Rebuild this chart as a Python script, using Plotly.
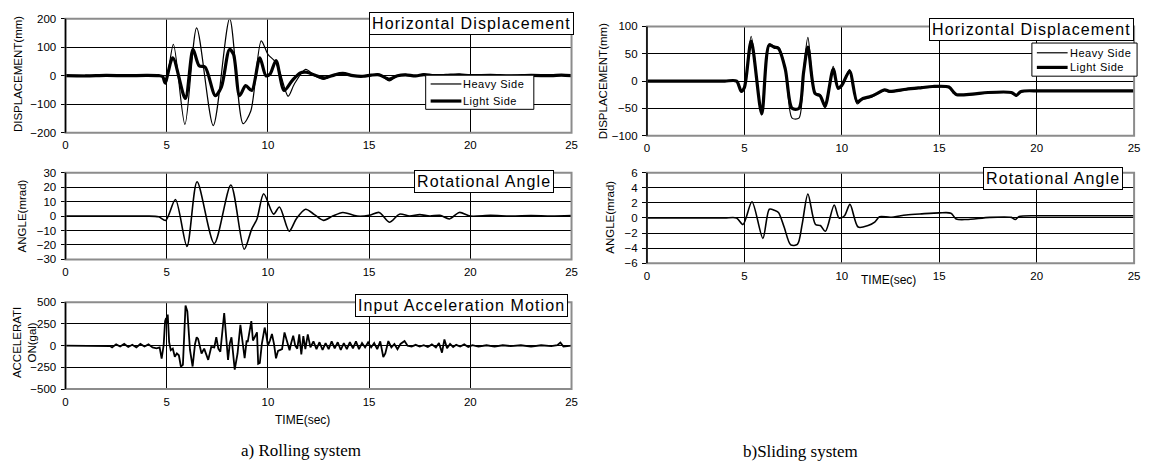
import plotly.graph_objects as go

W, H = 1152, 474

# ---------------- data ----------------
# a) Rolling system - horizontal displacement (mm)
roll_heavy_t = [0, 1, 2, 3, 4, 4.6, 4.8, 4.95, 5.33, 5.9, 6.48, 7.3, 8.11, 8.77, 9.15, 9.67, 10.0, 10.35,
                10.6, 11.0, 11.3, 11.86, 12.3, 12.75, 13.2, 13.7, 14.2, 14.7, 15.1, 15.5, 16.0, 16.4, 16.8,
                17.3, 17.7, 18.2, 18.8, 19.46, 20, 20.8, 21.6, 22.4, 23.2, 24.0, 24.5, 25]
roll_heavy_disp = [0, 1, -2, 1, 0, 2, -5, -30, 110, -171, 168, -175, 200, -168, -125, 122, 75, 50,
                   10, -72, -30, 22, 0, -13, 2, 11, 0, -3, 2, 5, -18, 0, 5,
                   -2, 6, 0, 2, 5, -1, 2, -1, 2, 0, -1, 3, 0]
roll_light_t = [0, 1, 2, 3, 4, 4.6, 4.8, 4.92, 5.3, 5.92, 6.3, 6.6, 6.9, 7.4, 7.7, 8.1, 8.3, 8.6, 8.9, 9.2,
                9.6, 9.9, 10.1, 10.4, 10.8, 11.2, 11.6, 11.9, 12.4, 12.8, 13.3, 13.7, 14.2, 14.7, 15.1, 15.5,
                16.0, 16.4, 16.8, 17.3, 17.7, 18.2, 18.8, 19.46, 20, 21, 22, 23, 24, 24.5, 25]
roll_light_disp = [0, -1, 1, 0, 1, 0, -3, -25, 63, -80, 92, 35, 30, -70, -40, 92, 75, -70, -35, -52,
                   63, 0, 5, 53, -52, -17, 10, 12, 0, -8, 3, 8, 0, -2, 2, 3,
                   -12, 0, 3, -1, 4, 0, 1, 3, 0, 1, -1, 1, 0, 2, 0]

# a) Rolling system - rotational angle (mrad)
roll_ang_t = [0, 1, 2, 3, 4, 4.6, 4.95, 5.43, 6.0, 6.5, 7.35, 8.17, 8.83, 9.2, 9.46, 9.79, 10.28, 10.57,
              11.05, 11.4, 11.86, 12.3, 12.75, 13.2, 13.7, 14.4, 15.0, 15.5, 16.0, 16.5, 17.0, 17.5, 18.0,
              18.5, 18.97, 19.46, 20, 21, 22, 23, 24, 25]
roll_angle = [0, 0, 0, 0, 0, -0.5, -3, 11.4, -21, 23.7, -19, 21.5, -23, -9, -2, 15.4, 1.3, 6.3,
              -10.5, -2, 4.7, 1, -3, 0, 2.5, 0, 0.5, 2.5, -4.3, 1.3, 0, 1, 0,
              0.5, -2, 2.5, 0, 0.5, 0, 0.3, 0, 0.3]

# a) Input acceleration motion (gal)
acc_t = [0, 1.0, 2.0, 2.2, 2.3, 2.5, 2.7, 2.9, 3.1, 3.3, 3.5, 3.7, 3.9, 4.1, 4.3, 4.5, 4.65, 4.75, 4.85,
         4.92, 4.97, 5.0, 5.05, 5.12, 5.2, 5.3, 5.4, 5.5, 5.6, 5.7, 5.8, 5.93, 6.02, 6.15, 6.28, 6.4,
         6.48, 6.55, 6.72, 6.85, 7.05, 7.2, 7.35, 7.45, 7.55, 7.65, 7.84, 7.95, 8.03, 8.12, 8.2, 8.36,
         8.5, 8.64, 8.75, 8.85, 8.95, 9.0, 9.18, 9.26, 9.35, 9.46, 9.52, 9.6, 9.7, 9.84, 9.92, 10.0,
         10.1, 10.2, 10.3, 10.4, 10.5, 10.6, 10.7, 10.82, 10.95, 11.07, 11.15, 11.25, 11.35, 11.45,
         11.55, 11.65, 11.75, 11.85, 11.97, 12.1, 12.25, 12.4, 12.55, 12.7, 12.85, 13.0, 13.15, 13.3,
         13.45, 13.6, 13.75, 13.9, 14.05, 14.2, 14.35, 14.5, 14.65, 14.8, 14.95, 15.1, 15.25, 15.4,
         15.55, 15.7, 15.8, 15.95, 16.1, 16.25, 16.4, 16.55, 16.75, 16.9, 17.1, 17.3, 17.5, 17.7, 17.9,
         18.1, 18.3, 18.45, 18.6, 18.72, 18.85, 19.0, 19.15, 19.3, 19.5, 19.7, 19.9, 20.1, 20.4, 20.8,
         21.2, 21.6, 22.0, 22.5, 23.0, 23.5, 24.0, 24.3, 24.45, 24.6, 25]
acc_gal = [0, 0, 0, -5, -20, 15, -10, 20, -15, 10, -20, 20, -10, 15, -20, -30, -20, -150, 10,
           283, 320, 250, 358, 40, -52, -34, -127, -90, -110, -240, -220, 463, 395, -50, -240, 20,
           97, 78, -90, -34, -164, -15, -20, 97, -34, -70, 377, 80, -164, 30, 97, -276,
           -90, 239, 0, -145, 60, 41, 283, 60, 100, 153, -209, -200, 20, 209, 120, 0,
           60, 134, 20, -145, -60, -52, -40, 153, 50, -52, 30, 116, 0, -34,
           130, -100, 110, -40, 130, -20, 50, -40, 40, -50, 30, -40, 50, -30,
           40, -50, 30, -40, 40, -30, 50, -40, 30, -20, 40, -20, 30, -40,
           50, -130, -90, 53, -20, 20, -40, 20, 53, 0, -10, 10, -10, 5, -15,
           15, -20, 30, -80, 72, -30, 20, -15, 10, -10, 15, -15, 5, -10, 5,
           -10, 5, -5, 5, -10, 5, -5, 5, 35, -10, 0]

# b) Sliding system - horizontal displacement (mm)
slide_t = [0, 1, 2, 3, 4, 4.6, 4.84, 5.0, 5.35, 5.89, 6.27, 6.53, 6.75, 7.1, 7.45, 7.8, 8.04, 8.26, 8.63,
           8.89, 9.14, 9.56, 9.81, 10.0, 10.4, 10.79, 11.08, 11.5, 11.8, 12.2, 12.45, 13.3, 14.1, 14.65,
           15.5, 15.75, 15.9, 16.7, 17.5, 18.7, 18.96, 19.2, 20.1, 21, 22, 23, 24, 25]
slide_heavy_disp = [0, 0, 0, 0, 0, 0, -19, -12, 82, -62, 68, 64, 62, 24, -68, -68, 18, 80, -21,
                    -25, -50, 27, -15, -9, 21, -42, -33, -30, -24, -17, -20, -16, -13, -11,
                    -12, -22, -26, -25, -22, -22, -28, -20, -19, -19, -19, -19, -19, -19]
slide_light_disp = [0, 0, 0, 0, 0, 0, -19, -12, 73, -60, 66, 62, 60, 22, -50, -50, 16, 62, -23,
                    -27, -46, 22, -13, -8, 18, -38, -32, -28, -23, -16, -19, -15, -12, -10,
                    -11, -21, -25, -24, -21, -21, -26, -19, -18, -18, -18, -18, -18, -18]

# b) Sliding system - rotational angle (mrad)
slide_ang_t = [0, 1, 2, 3, 4, 4.6, 4.93, 5.39, 5.95, 6.28, 6.54, 6.75, 7.04, 7.38, 7.72, 7.97, 8.26, 8.65,
               8.9, 9.16, 9.61, 9.86, 10.14, 10.42, 10.84, 11.35, 11.69, 11.94, 12.5, 13.3, 14.1, 15.0,
               15.6, 15.87, 16.4, 17.6, 18.7, 18.9, 19.1, 20.1, 21, 22, 23, 24, 25]
slide_angle = [0, 0, 0, 0, 0, 0, -0.86, 2.15, -2.7, 1.16, 1.03, 0.73, -1.2, -3.56, -3.5, -0.77, 3.18, -0.86,
               -1.0, -1.76, 1.72, 0, 0.3, 1.8, -1.2, -1.0, -0.55, 0.17, 0.1, 0.4, 0.55, 0.68,
               0.64, -0.13, -0.2, 0.08, 0.08, -0.2, 0.2, 0.3, 0.3, 0.3, 0.3, 0.3, 0.3]

x_ticks = [0, 5, 10, 15, 20, 25]
legend_names = ["Heavy Side", "Light Side"]
panel_titles = ["Horizontal Displacement", "Rotational Angle", "Input Acceleration Motion",
                "Horizontal Displacement", "Rotational Angle"]
y_titles = ["DISPLACEMENT(mm)", "ANGLE(mrad)", "ACCELERATI<br>ON(gal)", "DISPLACEMENT(mm)", "ANGLE(mrad)"]
captions = ["a) Rolling system", "b)Sliding system"]

# ---------------- layout geometry (pixels) ----------------
def px_x(p):
    return p / W

def px_y(p):
    return 1 - p / H

LX = (63, 573)
RX = (649, 1140)
panels = [  # (xdom px, ydom px top,bottom, yrange, dtick)
    (LX, (13, 130), [-200, 200], 100),
    (LX, (171, 260), [-30, 30], 10),
    (LX, (304, 393), [-500, 500], 250),
    (RX, (21, 133), [-100, 100], 50),
    (RX, (171, 264), [-6, 6], 2),
]

FONT = "Liberation Sans, Arial, sans-serif"
fig = go.Figure()

thin = dict(color="black", width=1.2, shape="spline", smoothing=0.8)
thick = dict(color="black", width=3.2, shape="spline", smoothing=0.8)

fig.add_trace(go.Scatter(x=roll_heavy_t, y=roll_heavy_disp, mode="lines", line=thin,
                         name=legend_names[0], xaxis="x", yaxis="y", showlegend=False))
fig.add_trace(go.Scatter(x=roll_light_t, y=roll_light_disp, mode="lines", line=thick,
                         name=legend_names[1], xaxis="x", yaxis="y", showlegend=False))
fig.add_trace(go.Scatter(x=roll_ang_t, y=roll_angle, mode="lines",
                         line=dict(color="black", width=1.6, shape="spline", smoothing=0.8),
                         showlegend=False, xaxis="x2", yaxis="y2"))
fig.add_trace(go.Scatter(x=acc_t, y=acc_gal, mode="lines",
                         line=dict(color="black", width=1.8),
                         showlegend=False, xaxis="x3", yaxis="y3"))
fig.add_trace(go.Scatter(x=slide_t, y=slide_heavy_disp, mode="lines", line=thin,
                         name=legend_names[0], xaxis="x4", yaxis="y4", showlegend=False))
fig.add_trace(go.Scatter(x=slide_t, y=slide_light_disp, mode="lines", line=thick,
                         name=legend_names[1], xaxis="x4", yaxis="y4", showlegend=False))
fig.add_trace(go.Scatter(x=slide_ang_t, y=slide_angle, mode="lines",
                         line=dict(color="black", width=1.6, shape="spline", smoothing=0.8),
                         showlegend=False, xaxis="x5", yaxis="y5"))

layout = dict(
    width=W, height=H, margin=dict(l=0, r=0, t=0, b=0),
    paper_bgcolor="white", plot_bgcolor="white",
    font=dict(family=FONT, size=11, color="black"),
    shapes=[], annotations=[], showlegend=False,
)

for i, (xd, yd, yr, dt) in enumerate(panels):
    n = "" if i == 0 else str(i + 1)
    layout["xaxis" + n] = dict(
        domain=[px_x(xd[0]), px_x(xd[1])], anchor="y" + n, range=[0, 25],
        tickvals=x_ticks, showgrid=True, gridcolor="black", gridwidth=1,
        zeroline=False, showline=False, ticks="", ticklabelstandoff=4,
        tickfont=dict(size=11.5, family=FONT),
    )
    layout["yaxis" + n] = dict(
        domain=[px_y(yd[1]), px_y(yd[0])], anchor="x" + n, range=yr, dtick=dt,
        showgrid=True, gridcolor="black", gridwidth=1, zeroline=False, showline=False,
        ticks="outside", ticklen=4, tickcolor="black", ticklabelstandoff=2,
        tickfont=dict(size=11.5, family=FONT),
    )
    xr = "x" + n + " domain" if n else "x domain"
    yrf = "y" + n + " domain" if n else "y domain"
    layout["shapes"].append(dict(type="rect", xref=xr, yref=yrf, x0=0, x1=1, y0=0, y1=1,
                                 line=dict(color="#8c8c8c", width=2), layer="above"))
    layout["shapes"].append(dict(type="line", xref=xr, yref=yrf, x0=0, x1=0, y0=0, y1=1,
                                 line=dict(color="black", width=1.5), layer="above"))

SP = '<span style="letter-spacing:1.1px">{}</span>'

# panel title boxes (right edge px, top px)
title_pos = [(575, 6), (555, 168), (569, 295), (1140, 12), (1129, 165)]
for txt, (xr_, yt) in zip(panel_titles, title_pos):
    layout["annotations"].append(dict(
        text=SP.format(txt), xref="paper", yref="paper", x=px_x(xr_), y=px_y(yt),
        xanchor="right", yanchor="top", showarrow=False,
        font=dict(size=16, family=FONT), bgcolor="white",
        bordercolor="black", borderwidth=1, borderpad=2))

# hand-drawn legends: (box x0, y0, x1, y1, row1 y, row2 y, line x0, line x1)
legend_boxes = [(426, 71, 535, 106, 80, 97.5, 431, 462),
                (1037, 38, 1143, 72, 48, 63, 1042, 1073)]
for (bx0, by0, bx1, by1, r1, r2, lx0, lx1) in legend_boxes:
    layout["shapes"].append(dict(type="rect", xref="paper", yref="paper",
                                 x0=px_x(bx0), x1=px_x(bx1), y0=px_y(by1), y1=px_y(by0),
                                 line=dict(color="black", width=1), fillcolor="white", layer="above"))
    for name, ry, lw in [(legend_names[0], r1, 1.2), (legend_names[1], r2, 3.2)]:
        layout["shapes"].append(dict(type="line", xref="paper", yref="paper",
                                     x0=px_x(lx0), x1=px_x(lx1), y0=px_y(ry), y1=px_y(ry),
                                     line=dict(color="black", width=lw), layer="above"))
        layout["annotations"].append(dict(
            text=SP.format(name).replace("1.1px", "0.5px"), xref="paper", yref="paper",
            x=px_x(lx1), y=px_y(ry), xanchor="left", yanchor="middle", showarrow=False,
            font=dict(size=11, family=FONT)))

# y axis titles (center x px, center y px)
ytitle_pos = [(15, 70), (19, 215), (21, 345), (605, 77), (611, 217)]
for txt, (xc, yc) in zip(y_titles, ytitle_pos):
    layout["annotations"].append(dict(
        text=txt, xref="paper", yref="paper", x=px_x(xc), y=px_y(yc),
        xanchor="center", yanchor="middle", showarrow=False, textangle=-90,
        font=dict(size=11.5, family=FONT)))

# x axis titles
for (xc, yc) in [(302, 425), (892, 281)]:
    layout["annotations"].append(dict(
        text="TIME(sec)", xref="paper", yref="paper", x=px_x(xc), y=px_y(yc),
        xanchor="center", yanchor="middle", showarrow=False, font=dict(size=12, family=FONT)))

# captions
for txt, (xc, yc) in zip(captions, [(300, 456), (804, 457)]):
    layout["annotations"].append(dict(
        text=txt, xref="paper", yref="paper", x=px_x(xc), y=px_y(yc),
        xanchor="center", yanchor="middle", showarrow=False,
        font=dict(size=17, family="Liberation Serif, Times New Roman, serif")))

fig.update_layout(**layout)
fig.write_html("out.html")
